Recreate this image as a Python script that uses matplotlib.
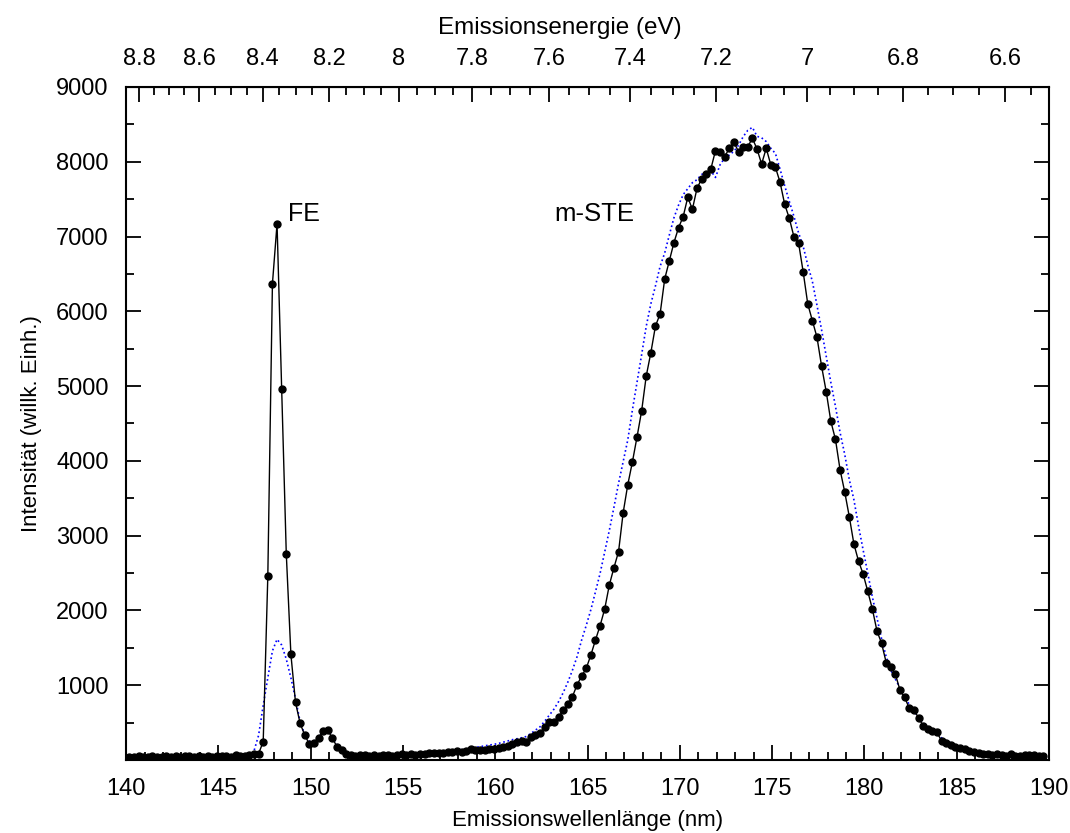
import matplotlib
matplotlib.use("Agg")
import matplotlib.pyplot as plt
import numpy as np
from matplotlib.ticker import MultipleLocator, FixedLocator

plt.rcParams['font.family'] = ['Liberation Sans', 'DejaVu Sans']

# spectrum sampled every 0.25 nm starting at 140.18 nm
wl_start = 140.18
wl_step = 0.25

# black: measured spectrum (dots)
intensity = [
    42, 38, 55, 45, 40, 52, 47, 36, 58, 44,
    50, 41, 56, 48, 39, 53, 46, 60, 43, 51,
    49, 57, 45, 62, 50, 55, 64, 80, 85, 245,
    2460, 6370, 7170, 4960, 2760, 1413, 771, 490, 334, 214,
    232, 290, 392, 401, 290, 178, 134, 80, 66, 58,
    70, 62, 55, 68, 60, 72, 64, 58, 70, 75,
    68, 80, 72, 85, 78, 94, 88, 100, 96, 113,
    105, 118, 111, 125, 143, 130, 134, 140, 150, 148,
    156, 170, 192, 215, 245, 250, 240, 303, 334, 365,
    446, 513, 504, 571, 669, 749, 847, 1003, 1123, 1226,
    1404, 1605, 1797, 2020, 2340, 2572, 2786, 3307, 3682, 3985,
    4319, 4667, 5135, 5447, 5804, 5964, 6432, 6677, 6918, 7118,
    7265, 7525, 7364, 7645, 7769, 7836, 7903, 8148, 8126, 8068,
    8180, 8260, 8135, 8202, 8202, 8313, 8171, 7970, 8180, 7957,
    7925, 7725, 7431, 7244, 6998, 6918, 6530, 6098, 5875, 5652,
    5265, 4925, 4529, 4288, 3882, 3588, 3254, 2888, 2661, 2487,
    2256, 2019, 1725, 1560, 1303, 1248, 1146, 930, 838, 691,
    669, 566, 459, 415, 388, 370, 254, 232, 196, 178,
    156, 143, 125, 103, 89, 84, 76, 67, 80, 71,
    58, 80, 58, 58, 62, 71, 67, 58, 53,
]

# blue dotted: second spectrum
intensity_ref = [
    40, 38, 42, 40, 39, 41, 40, 38, 42, 40,
    41, 39, 42, 40, 38, 41, 40, 43, 39, 41,
    40, 42, 40, 44, 42, 45, 50, 120, 330, 730,
    1100, 1460, 1614, 1538, 1350, 1100, 820, 512, 340, 250,
    255, 300, 380, 400, 320, 200, 120, 85, 72, 66,
    68, 65, 64, 67, 66, 70, 68, 70, 72, 74,
    76, 78, 82, 86, 90, 94, 98, 103, 108, 114,
    122, 130, 140, 150, 160, 170, 178, 190, 200, 210,
    222, 238, 255, 272, 285, 298, 315, 355, 400, 445,
    520, 600, 680, 780, 900, 1040, 1200, 1380, 1605, 1800,
    2010, 2250, 2496, 2780, 3070, 3380, 3700, 3990, 4280, 4680,
    5050, 5420, 5800, 6100, 6340, 6600, 6780, 7020, 7250, 7420,
    7560, 7640, 7720, 7760, 7830, 7860, 7880, 7790, 7960, 8050,
    8090, 8140, 8220, 8335, 8420, 8460, 8340, 8320, 8270, 8180,
    8110, 7900, 7680, 7470, 7270, 7050, 6870, 6620, 6400, 6080,
    5750, 5400, 5050, 4730, 4380, 4090, 3750, 3480, 3130, 2808,
    2500, 2180, 1900, 1620, 1380, 1200, 1080, 960, 860, 740,
    650, 580, 500, 440, 400, 350, 295, 260, 230, 200,
    178, 160, 140, 118, 105, 95, 88, 80, 75, 70,
    66, 62, 60, 58, 56, 55, 54, 53, 52,
]

wavelength = wl_start + wl_step * np.arange(len(intensity))

energy_ticks = [8.8, 8.6, 8.4, 8.2, 8.0, 7.8, 7.6, 7.4, 7.2, 7.0, 6.8, 6.6]
energy_labels = ['8.8', '8.6', '8.4', '8.2', '8', '7.8', '7.6', '7.4', '7.2', '7', '6.8', '6.6']
HC = 1238.2  # eV nm, as used for the top scale

fs = 17

fig = plt.figure(figsize=(10.7, 8.33), dpi=100)
ax = fig.add_axes([0.1178, 0.0876, 0.8626, 0.808])

ax.plot(wavelength, intensity_ref, color='#0000ff', linestyle=':', linewidth=1.2)
ax.plot(wavelength, intensity, color='black', linewidth=1.0,
        marker='o', markersize=5, markerfacecolor='black', markeredgecolor='black')

ax.set_xlim(140, 190)
ax.set_ylim(0, 9000)
ax.xaxis.set_major_locator(MultipleLocator(5))
ax.xaxis.set_minor_locator(MultipleLocator(1))
ax.yaxis.set_major_locator(FixedLocator([1000, 2000, 3000, 4000, 5000, 6000, 7000, 8000, 9000]))
ax.yaxis.set_minor_locator(MultipleLocator(500))

ax.tick_params(which='both', direction='in', right=True, labelsize=fs, width=1.3)
ax.tick_params(which='major', length=11)
ax.tick_params(which='minor', length=6)
ax.tick_params(axis='x', pad=13)
ax.tick_params(axis='y', pad=12.5)
for sp in ax.spines.values():
    sp.set_linewidth(1.5)

ax.set_xlabel('Emissionswellenlänge (nm)', fontsize=16, labelpad=7)
ax.set_ylabel('Intensität (willk. Einh.)', fontsize=16, labelpad=10)

secax = ax.secondary_xaxis('top', functions=(lambda x: HC / x, lambda e: HC / e))
secax.set_xticks(energy_ticks)
secax.set_xticklabels(energy_labels)
secax.xaxis.set_minor_locator(MultipleLocator(0.05))
secax.tick_params(which='both', direction='in', labelsize=fs, width=1.3)
secax.tick_params(which='major', length=11, pad=12)
secax.tick_params(which='minor', length=6)
secax.set_xlabel('Emissionsenergie (eV)', fontsize=17.5, labelpad=10)
secax.xaxis.label.set_x(0.47)

ax.text(148.8, 7300, 'FE', fontsize=18, va='center', ha='left')
ax.text(163.2, 7300, 'm-STE', fontsize=18.5, va='center', ha='left')

plt.savefig('out.png', dpi=100)
plt.close()
